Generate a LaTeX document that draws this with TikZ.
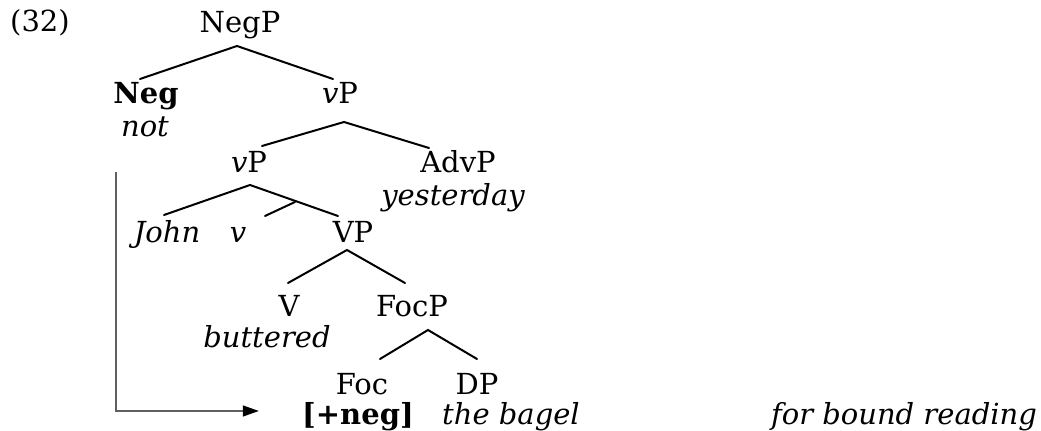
\documentclass[tikz,border=0pt]{standalone}
\usepackage{fontspec}
\setmainfont{DejaVu Serif}
\usetikzlibrary{arrows.meta}

\tikzset{
  tn/.style={anchor=base, inner sep=0pt, font=\fontsize{14.5}{17}\selectfont},
  gl/.style={tn, font=\fontsize{14.5}{17}\selectfont\itshape},
  br/.style={line width=1pt, line cap=round},
  mv/.style={line width=0.65pt, gray!75!black, -{Triangle[length=8pt,width=5.5pt,black]}}
}

\begin{document}
\begin{tikzpicture}[x=0.5pt, y=-0.5pt]
  \useasboundingbox (0,0) rectangle (1041,431);

  % Labels
  \node[tn] (ex) at (40,32) {(32)};
  \node[tn] (NegP) at (240,33) {NegP};
  \node[tn] (Neg) at (146,104) {\bfseries Neg};
  \node[gl] (not) at (145,137) {not};
  \node[tn] (vPa) at (340,104) {\textit{v}P};
  \node[tn] (vPb) at (249,173) {\textit{v}P};
  \node[tn] (AdvP) at (458,173) {AdvP};
  \node[gl] (yest) at (453,206) {yesterday};
  \node[gl] (John) at (167,243) {John};
  \node[gl] (v) at (238,243) {v};
  \node[tn] (VP) at (353,243) {VP};
  \node[tn] (V) at (289,317) {V};
  \node[gl] (butt) at (267,348) {buttered};
  \node[tn] (FocP) at (412,317) {FocP};
  \node[tn] (Foc) at (362,395) {Foc};
  \node[tn] (DP) at (477,395) {DP};
  \node[tn] (neg) at (358,425) {\bfseries [+neg]};
  \node[gl] (bagel) at (511,425) {the bagel};
  \node[gl] (bound) at (904,425) {for bound reading};

  % Branches
  \draw[br] ([shift={(-6,-25)}]Neg.base) -- ([shift={(-3,13)}]NegP.base) -- ([shift={(-7,-25)}]vPa.base);
  \draw[br] ([shift={(13,-27)}]vPb.base) -- ([shift={(4,18)}]vPa.base) -- ([shift={(-29,-25)}]AdvP.base);
  \draw[br] ([shift={(-3,-28)}]John.base) -- ([shift={(1,12)}]vPb.base) -- ([shift={(-15,-27)}]VP.base);
  \draw[br] ([shift={(27,-27)}]v.base) -- ([shift={(46,29)}]vPb.base);
  \draw[br] ([shift={(-1,-34)}]V.base) -- ([shift={(-6,7)}]VP.base) -- ([shift={(-7,-34)}]FocP.base);
  \draw[br] ([shift={(18,-36)}]Foc.base) -- ([shift={(16,13)}]FocP.base) -- ([shift={(0,-36)}]DP.base);

  % Movement
  \coordinate (start) at (116,172);
  \draw[mv] (start) |- ([shift={(-43,-14)}]neg.base west);
\end{tikzpicture}
\end{document}
